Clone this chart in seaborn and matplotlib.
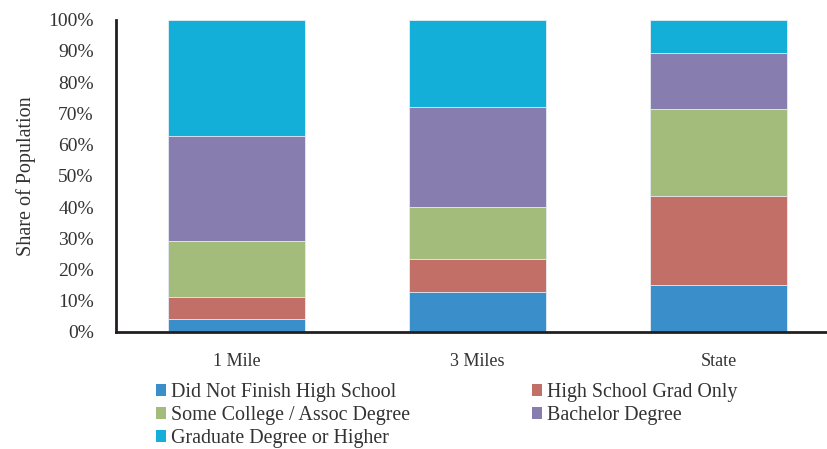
import numpy as np
import pandas as pd
import matplotlib
matplotlib.use("Agg")
import matplotlib.pyplot as plt
import seaborn as sns
from matplotlib.patches import Patch
from matplotlib.ticker import PercentFormatter

# Educational attainment shares (%) by trade area
areas = ["1 Mile", "3 Miles", "State"]
did_not_finish = [4.1, 12.7, 14.9]
hs_grad_only = [7.0, 10.8, 28.7]
some_college = [18.0, 16.5, 27.8]
bachelor = [33.6, 31.9, 17.8]
graduate = [37.3, 28.1, 10.8]

series_names = [
    "Did Not Finish High School",
    "High School Grad Only",
    "Some College / Assoc Degree",
    "Bachelor Degree",
    "Graduate Degree or Higher",
]
series_values = [did_not_finish, hs_grad_only, some_college, bachelor, graduate]
colors = ["#3A8FCA", "#C16F67", "#A3BC7B", "#877EAF", "#14AFD8"]

sns.set_theme(style="white")
plt.rcParams["font.family"] = ["Liberation Serif", "DejaVu Serif"]

df = pd.DataFrame({name: vals for name, vals in zip(series_names, series_values)}, index=areas)
cum = df.cumsum(axis=1)

fig = plt.figure(figsize=(8.28, 4.49), dpi=100)
ax = fig.add_axes([116 / 828, (449 - 332) / 449, 723 / 828, 312.3 / 449])

# Stacked bars: draw cumulative totals from the top segment down
for name, color in reversed(list(zip(series_names, colors))):
    sns.barplot(
        x=areas, y=cum[name].values, color=color, width=0.57,
        edgecolor="#E8EEF4", linewidth=0.6, saturation=1, ax=ax,
    )

ax.set_xlim(-0.5, 2.5)
ax.set_ylim(0, 100)
ax.set_yticks(np.arange(0, 101, 10))
ax.yaxis.set_major_formatter(PercentFormatter(decimals=0))
ax.tick_params(axis="both", length=0, colors="#333333")
ax.tick_params(axis="x", pad=15, labelsize=13)
ax.tick_params(axis="y", pad=16, labelsize=14)
ax.set_ylabel("Share of Population", fontsize=14.5, color="#333333", labelpad=9)
ax.set_xlabel("")

for side in ["top", "right"]:
    ax.spines[side].set_visible(False)
for side in ["left", "bottom"]:
    ax.spines[side].set_color("#231F20")
    ax.spines[side].set_linewidth(2)

# Legend filled row by row across two columns
order = [0, 2, 4, 1, 3]
handles = [Patch(facecolor=colors[i], edgecolor="none") for i in order]
labels = [series_names[i] for i in order]
fig.legend(
    handles, labels, loc="upper left", bbox_to_anchor=(148 / 828, 1 - 375 / 449),
    ncol=2, frameon=False, fontsize=14.4, handlelength=0.5, handleheight=0.5,
    handletextpad=0.25, columnspacing=6.1, labelspacing=0.2, borderaxespad=0,
    labelcolor="#333333",
)

fig.savefig("out.png", dpi=100)
